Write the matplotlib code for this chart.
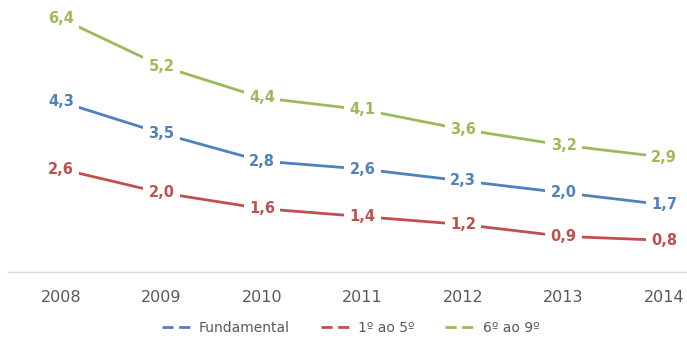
import numpy as np
import matplotlib.pyplot as plt

# data
anos = [2008, 2009, 2010, 2011, 2012, 2013, 2014]
fundamental = [4.3, 3.5, 2.8, 2.6, 2.3, 2.0, 1.7]
anos_1_5 = [2.6, 2.0, 1.6, 1.4, 1.2, 0.9, 0.8]
anos_6_9 = [6.4, 5.2, 4.4, 4.1, 3.6, 3.2, 2.9]

series = [
    ('Fundamental', fundamental, '#4F81BD'),
    ('1º ao 5º', anos_1_5, '#C0504D'),
    ('6º ao 9º', anos_6_9, '#9BBB59'),
]

fig = plt.figure(figsize=(6.87, 3.4), dpi=100)
ax = fig.add_axes([8/687, 0.2, 679/687, 0.8])

x = np.arange(len(anos))
for nome, vals, cor in series:
    ax.plot(x, vals, color=cor, lw=2.0, label=nome, zorder=2)
    for xi, v in zip(x, vals):
        ax.text(xi, v, f'{v:.1f}'.replace('.', ','), color=cor,
                fontsize=10.5, fontweight='bold', ha='center', va='center',
                bbox=dict(boxstyle='square,pad=0.35', fc='white', ec='none'),
                zorder=3)

ax.set_xlim(-53/100.5, 6 + 23/100.5)
ax.set_ylim(0, 272/39.6)
ax.set_xticks(x)
ax.set_xticklabels([str(a) for a in anos], fontsize=11.5, color='#595959')
ax.tick_params(axis='x', length=0, pad=13)
ax.set_yticks([])
for s in ['top', 'right', 'left']:
    ax.spines[s].set_visible(False)
ax.spines['bottom'].set_color('#D9D9D9')
ax.spines['bottom'].set_linewidth(1)

handles = [plt.Line2D([], [], color=c, lw=2.0, dashes=(4, 2)) for _, _, c in series]
fig.legend(handles, [n for n, _, _ in series], loc='center',
           bbox_to_anchor=(0.51, 12/340), ncol=3, frameon=False,
           fontsize=10, handlelength=2.4, handletextpad=0.3, columnspacing=2.2,
           labelcolor='#595959')

plt.savefig('out.png', dpi=100)
